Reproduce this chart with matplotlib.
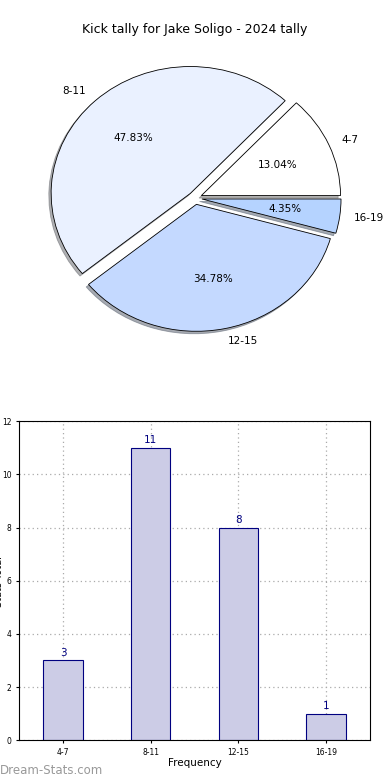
import numpy as np
import matplotlib.pyplot as plt

categorias = ['4-7', '8-11', '12-15', '16-19']
contagens = [3, 11, 8, 1]
cores_pizza = ['#ffffff', '#eaf1ff', '#c4d9ff', '#b5d3ff']

fig = plt.figure(figsize=(3.9, 7.8), dpi=100)

# Grafico de pizza
ax1 = fig.add_axes([0.017, 0.524, 0.966, 0.444])
ax1.pie(contagens, labels=categorias, colors=cores_pizza, explode=[0.05] * 4,
        autopct='%1.2f%%', startangle=0, labeldistance=1.1,
        shadow={'ox': -0.012, 'oy': -0.014, 'shade': 0.6},
        wedgeprops={'edgecolor': 'black', 'linewidth': 0.6},
        textprops={'fontsize': 7.5})
ax1.set_aspect('auto')
ax1.set_xlim(-1.354, 1.354)
ax1.set_ylim(-1.364, 1.364)
fig.text(0.5, 0.962, 'Kick tally for Jake Soligo - 2024 tally', ha='center', va='center', fontsize=9)

# Grafico de barras
ax2 = fig.add_axes([0.049, 0.051, 0.9, 0.409])
x = np.arange(len(categorias))
ax2.bar(x, contagens, width=0.45, color='#ccccE6', edgecolor='#000080', linewidth=0.8, zorder=2)
for xi, v in zip(x, contagens):
    ax2.text(xi, v + 0.1, str(v), ha='center', va='bottom', fontsize=7.5, color='#000080')
ax2.set_xticks(x)
ax2.set_xticklabels(categorias, fontsize=5.5)
ax2.set_xlim(-0.5, 3.5)
ax2.set_ylim(0, 12)
ax2.set_yticks(range(0, 13, 2))
ax2.tick_params(axis='y', labelsize=5.5, length=2)
ax2.tick_params(axis='x', length=2)
ax2.grid(True, linestyle=(0, (1, 2.5)), color='#aaaaaa', linewidth=0.9, zorder=0)
ax2.set_xlabel('Frequency', fontsize=7.5, labelpad=1)
fig.text(-0.003, 0.255, 'Stats Total', rotation=90, ha='center', va='center', fontsize=7)

fig.text(0.0, 0.012, 'Dream-Stats.com', fontsize=8.5, color='#999999', ha='left', va='center')

plt.savefig('out.png', dpi=100)
